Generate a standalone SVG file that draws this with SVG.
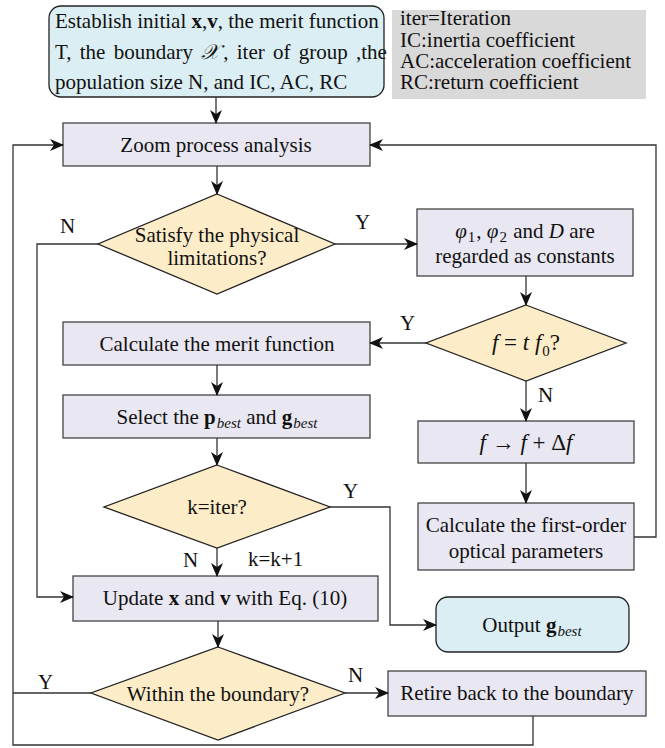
<svg xmlns="http://www.w3.org/2000/svg" width="665" height="748" viewBox="0 0 665 748">
<defs>
<marker id="ah" markerWidth="14" markerHeight="12" refX="13" refY="6" orient="auto" markerUnits="userSpaceOnUse">
<path d="M0,0 L14,6 L0,12 L4,6 Z" fill="#111"/>
</marker>
</defs>
<style>
text{font-family:"Liberation Serif","Times New Roman",serif;font-size:21px;fill:#111}
.c{text-anchor:middle}
.proc{fill:#e9e7f1;stroke:#444;stroke-width:1.3}
.dec{fill:#fdecc8;stroke:#222;stroke-width:1.3}
.term{fill:#dbeef3;stroke:#222;stroke-width:1.3}
.leg{fill:#d9d9d9}
.ln{fill:none;stroke:#333;stroke-width:1.3}
.b{font-weight:bold}
.i{font-style:italic}
.sub{font-size:15px}
.m{font-size:23px}
</style>
<g id="start">
<rect class="term" x="49" y="6" width="335" height="91" rx="12"/>
<text x="55" y="28">Establish initial <tspan class="b">x</tspan>,<tspan class="b">v</tspan>, the merit function</text>
<text x="55" y="59" word-spacing="3">T, the boundary <tspan class="i">𝒳</tspan><tspan dx="4">, iter of group ,the</tspan></text>
<text x="55" y="89">population size N, and IC, AC, RC</text>
</g>
<g id="legend">
<rect class="leg" x="392" y="10" width="254" height="89"/>
<text x="400" y="25">iter=Iteration</text>
<text x="400" y="47">IC:inertia coefficient</text>
<text x="400" y="68">AC:acceleration coefficient</text>
<text x="400" y="89">RC:return coefficient</text>
</g>
<g id="zoom">
<rect class="proc" x="63" y="123" width="307" height="43"/>
<text class="c" x="216" y="152">Zoom process analysis</text>
</g>
<g id="physical">
<polygon class="dec" points="217,194 335,244 217,294 98,244"/>
<text class="c" x="217" y="242">Satisfy the physical</text>
<text class="c" x="217" y="265">limitations?</text>
</g>
<g id="constants">
<rect class="proc" x="417" y="209" width="216" height="67"/>
<text class="c" x="525" y="238"><tspan class="i">φ</tspan><tspan class="sub" dx="1" dy="4">1</tspan><tspan dx="1" dy="-4">, </tspan><tspan class="i">φ</tspan><tspan class="sub" dx="1" dy="4">2</tspan><tspan dx="1" dy="-4"> and </tspan><tspan class="i">D</tspan> are</text>
<text class="c" x="525" y="263">regarded as constants</text>
</g>
<g id="ftf0">
<polygon class="dec" points="526,305 626,343 526,381 426,343"/>
<text class="c m" x="526" y="350"><tspan class="i">f</tspan> = <tspan class="i">t f</tspan><tspan class="sub" dx="1" dy="6">0</tspan><tspan dy="-6">?</tspan></text>
</g>
<g id="merit">
<rect class="proc" x="63" y="322" width="307" height="43"/>
<text class="c" x="217" y="351">Calculate the merit function</text>
</g>
<g id="select">
<rect class="proc" x="63" y="395" width="307" height="43"/>
<text class="c" x="217" y="424">Select the <tspan class="b">p</tspan><tspan class="i sub" dx="1" dy="4">best</tspan><tspan dy="-4"> and </tspan><tspan class="b">g</tspan><tspan class="i sub" dx="1" dy="4">best</tspan></text>
</g>
<g id="deltaf">
<rect class="proc" x="418" y="421" width="216" height="42"/>
<text class="c m" x="526" y="450"><tspan class="i">f</tspan> → <tspan class="i">f</tspan> + Δ<tspan class="i">f</tspan></text>
</g>
<g id="firstorder">
<rect class="proc" x="418" y="503" width="216" height="67"/>
<text class="c" x="526" y="532">Calculate the first-order</text>
<text class="c" x="526" y="558">optical parameters</text>
</g>
<g id="kiter">
<polygon class="dec" points="217,465 330,507 217,548 104,507"/>
<text class="c" x="217" y="514">k=iter?</text>
</g>
<g id="update">
<rect class="proc" x="73" y="576" width="305" height="45"/>
<text class="c" x="225" y="605">Update <tspan class="b">x</tspan> and <tspan class="b">v</tspan> with Eq. (10)</text>
</g>
<g id="output">
<rect class="term" x="436" y="597" width="193" height="55" rx="12"/>
<text class="c" x="532" y="632">Output <tspan class="b">g</tspan><tspan class="i sub" dx="1" dy="4">best</tspan></text>
</g>
<g id="within">
<polygon class="dec" points="218,647 345,693 218,740 91,693"/>
<text class="c" x="218" y="701">Within the boundary?</text>
</g>
<g id="retire">
<rect class="proc" x="388" y="671" width="258" height="45"/>
<text class="c" x="517" y="700">Retire back to the boundary</text>
</g>
<g id="connectors">
<path class="ln" d="M216,97 V123" marker-end="url(#ah)"/>
<path class="ln" d="M217,166 V194" marker-end="url(#ah)"/>
<path class="ln" d="M335,244 H417" marker-end="url(#ah)"/>
<path class="ln" d="M98,244 H37 V597 H73" marker-end="url(#ah)"/>
<path class="ln" d="M526,276 V305" marker-end="url(#ah)"/>
<path class="ln" d="M426,343 H370" marker-end="url(#ah)"/>
<path class="ln" d="M526,381 V421" marker-end="url(#ah)"/>
<path class="ln" d="M526,463 V503" marker-end="url(#ah)"/>
<path class="ln" d="M634,537 H656 V145 H370" marker-end="url(#ah)"/>
<path class="ln" d="M217,365 V395" marker-end="url(#ah)"/>
<path class="ln" d="M217,438 V465" marker-end="url(#ah)"/>
<path class="ln" d="M330,507 H390 V625 H436" marker-end="url(#ah)"/>
<path class="ln" d="M217,548 V576" marker-end="url(#ah)"/>
<path class="ln" d="M218,621 V647" marker-end="url(#ah)"/>
<path class="ln" d="M345,693 H388" marker-end="url(#ah)"/>
<path class="ln" d="M91,693 H13"/>
<path class="ln" d="M533,716 V745 H13 V145 H63" marker-end="url(#ah)"/>
<text x="60" y="233">N</text>
<text x="355" y="229">Y</text>
<text x="400" y="330">Y</text>
<text x="538" y="402">N</text>
<text x="343" y="498">Y</text>
<text x="183" y="567">N</text>
<text x="248" y="566">k=k+1</text>
<text x="38" y="689">Y</text>
<text x="348" y="682">N</text>
</g>
</svg>
